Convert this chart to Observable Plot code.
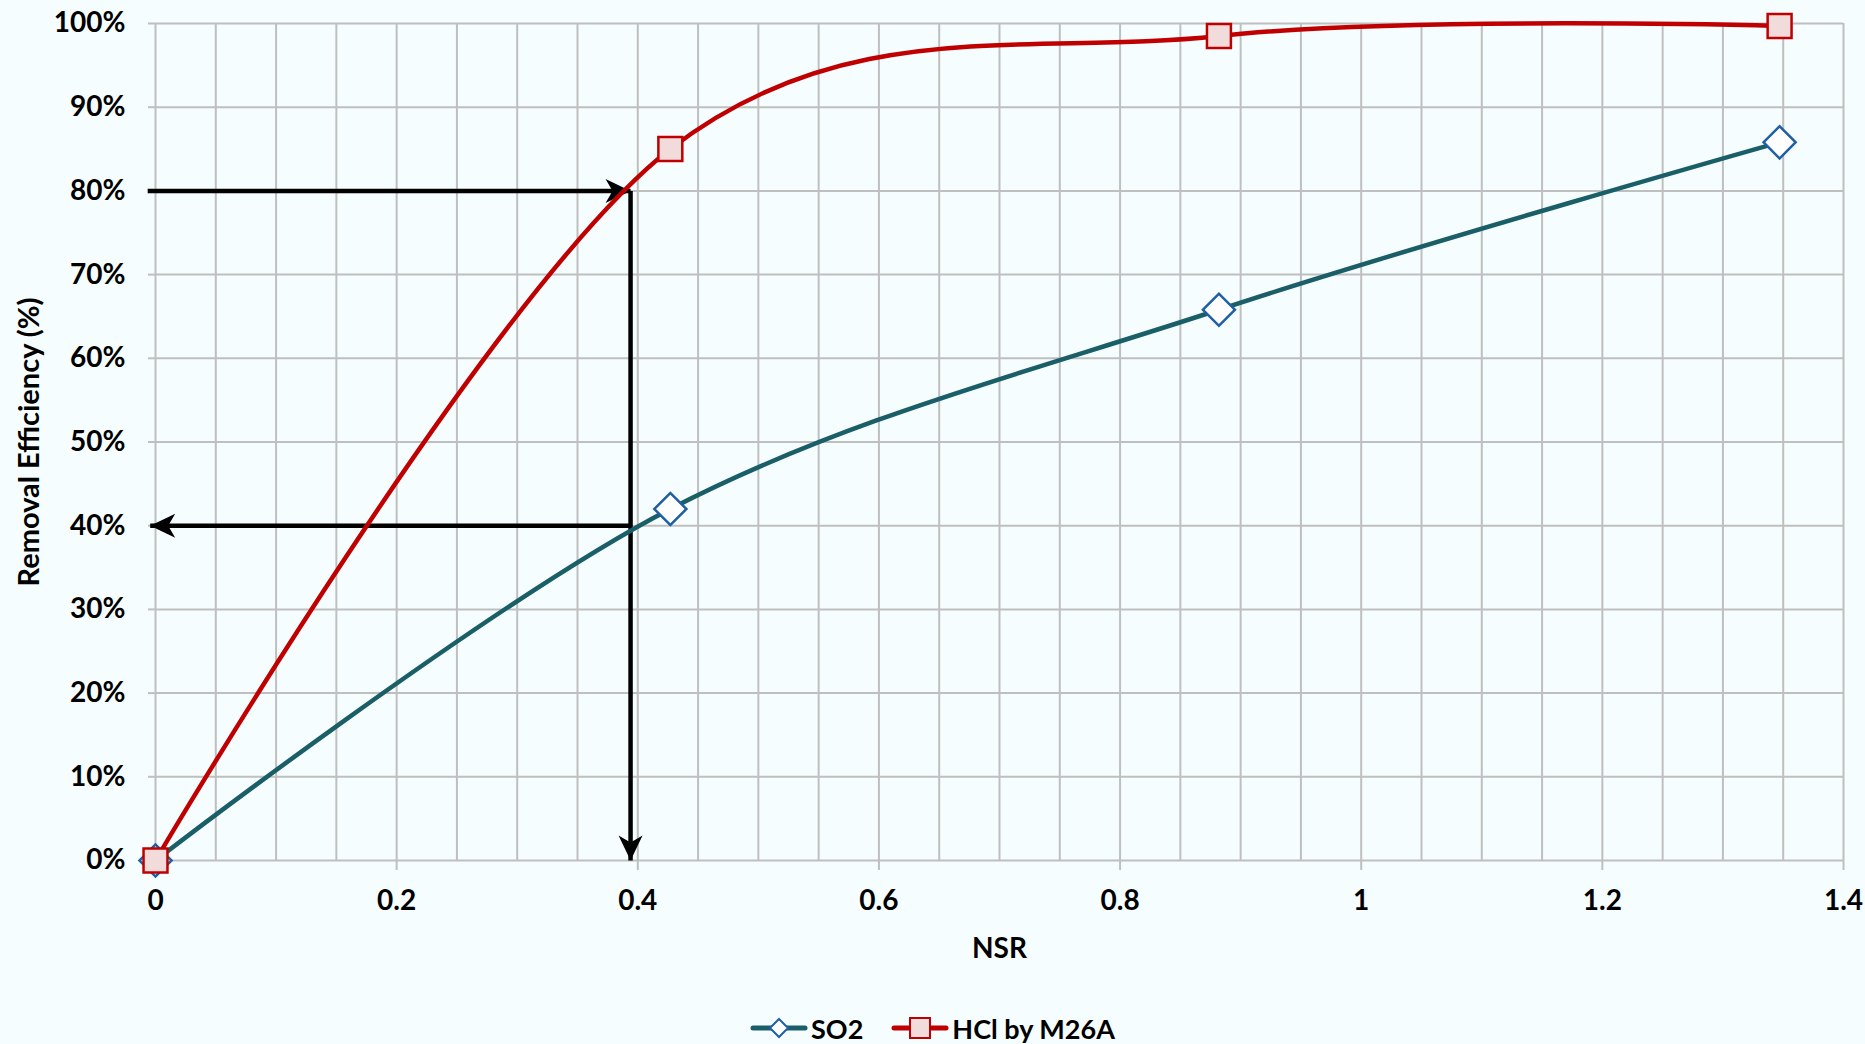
<!DOCTYPE html>
<html><head><meta charset="utf-8">
<script src="https://cdn.jsdelivr.net/npm/d3@7"></script>
<script src="https://cdn.jsdelivr.net/npm/@observablehq/plot@0.6"></script>
<style>
html,body{margin:0;padding:0;background:#F6FDFE;}
body{width:1865px;height:1044px;overflow:hidden;position:relative;font-family:Lato, sans-serif;}
#chart{position:absolute;left:0;top:0;}
#legend{position:absolute;left:0;top:1006px;width:1865px;height:44px;display:flex;justify-content:center;align-items:center;gap:28px;font-weight:700;font-size:27px;color:#000;}
.item{display:flex;align-items:center;gap:3px;}
.item svg{display:block;}
</style></head><body><div id="chart"></div><div id="legend"></div>
<script>
// ---- data ----
const nsr = [0, 0.427, 0.882, 1.347];
const so2 = [0, 42, 65.8, 85.8];
const hcl = [0, 85, 98.5, 99.7];
const seriesNames = ["SO2", "HCl by M26A"];
const xTicks = [0, 0.2, 0.4, 0.6, 0.8, 1, 1.2, 1.4];
const xMinorGrid = d3.range(0, 29).map(i => i * 0.05);
const yTicks = [0, 10, 20, 30, 40, 50, 60, 70, 80, 90, 100];
const xLabel = "NSR";
const yLabel = "Removal Efficiency (%)";
// annotation guide arrows (data coordinates)
const guideSegments = [
  {x1: -0.0065, y1: 80, x2: 0.394, y2: 80},
  {x1: 0.394, y1: 80, x2: 0.394, y2: 0},
  {x1: 0.394, y1: 40, x2: -0.0044, y2: 40}
];
const guideHeads = [
  {x: 0.394, y: 80, angle: 90},
  {x: 0.394, y: 0, angle: 180},
  {x: -0.0044, y: 40, angle: 270}
];

const so2Data = nsr.map((x, i) => ({x, y: so2[i]}));
const hclData = nsr.map((x, i) => ({x, y: hcl[i]}));

const teal = "#1A5E68", diamondStroke = "#1F5FA3", red = "#C00000", squareFill = "#F2DCDB", grid = "#BFBFBF";

const stealth = {
  draw(ctx) {
    ctx.moveTo(0, 0);
    ctx.lineTo(12, 25);
    ctx.lineTo(0, 18);
    ctx.lineTo(-12, 25);
    ctx.closePath();
  }
};

const chart = Plot.plot({
  width: 1865,
  height: 1000,
  marginLeft: 155,
  marginRight: 22,
  marginTop: 23,
  marginBottom: 140,
  style: {fontFamily: "Lato, sans-serif", background: "transparent", overflow: "visible"},
  x: {domain: [0, 1.4]},
  y: {domain: [0, 100]},
  marks: [
    Plot.gridX(xMinorGrid, {stroke: grid, strokeOpacity: 1, strokeWidth: 2}),
    Plot.gridY(yTicks, {stroke: grid, strokeOpacity: 1, strokeWidth: 2}),
    Plot.axisX(xTicks, {tickSize: 10, tickPadding: 20, stroke: grid, strokeWidth: 2, fill: "#000",
      fontSize: 28, fontWeight: 700, label: null, tickFormat: d => String(+d.toFixed(1))}),
    Plot.axisY(yTicks, {tickSize: 7, tickPadding: 23, stroke: grid, strokeWidth: 2, fill: "#000",
      fontSize: 28, fontWeight: 700, label: null, tickFormat: d => d + "%"}),
    Plot.text([xLabel], {frameAnchor: "bottom", dy: 97, fontSize: 28, fontWeight: 700, fill: "#000"}),
    Plot.text([yLabel], {frameAnchor: "left", dx: -126, rotate: -90, textAnchor: "middle", fontSize: 29, fontWeight: 700, fill: "#000"}),
    Plot.link(guideSegments, {x1: "x1", y1: "y1", x2: "x2", y2: "y2", stroke: "#000", strokeWidth: 4.5}),
    Plot.dot(guideHeads, {x: "x", y: "y", rotate: "angle", symbol: stealth, fill: "#000", stroke: "none"}),
    Plot.line(so2Data, {x: "x", y: "y", curve: "cardinal", stroke: teal, strokeWidth: 4.5}),
    Plot.line(hclData, {x: "x", y: "y", curve: "cardinal", stroke: red, strokeWidth: 4.5}),
    Plot.dot(so2Data, {x: "x", y: "y", symbol: "square", r: 12.8, rotate: 45, fill: "#fff", stroke: diamondStroke, strokeWidth: 2.5}),
    Plot.dot(hclData, {x: "x", y: "y", symbol: "square", r: 13.5, fill: squareFill, stroke: red, strokeWidth: 2.5})
  ]
});
document.getElementById("chart").appendChild(chart);

// legend
const legend = document.getElementById("legend");
const sw = [
  `<svg width="58" height="30"><line x1="3" y1="15" x2="55" y2="15" stroke="${teal}" stroke-width="5" stroke-linecap="round"/><path d="M29 6 L38 15 L29 24 L20 15 Z" fill="#fff" stroke="${diamondStroke}" stroke-width="2"/></svg>`,
  `<svg width="58" height="30"><line x1="3" y1="15" x2="55" y2="15" stroke="${red}" stroke-width="5" stroke-linecap="round"/><rect x="19" y="5" width="20" height="20" fill="${squareFill}" stroke="${red}" stroke-width="2"/></svg>`
];
seriesNames.forEach((name, i) => {
  const d = document.createElement("div");
  d.className = "item";
  d.innerHTML = sw[i] + `<span>${name}</span>`;
  legend.appendChild(d);
});
</script>
</body></html>
